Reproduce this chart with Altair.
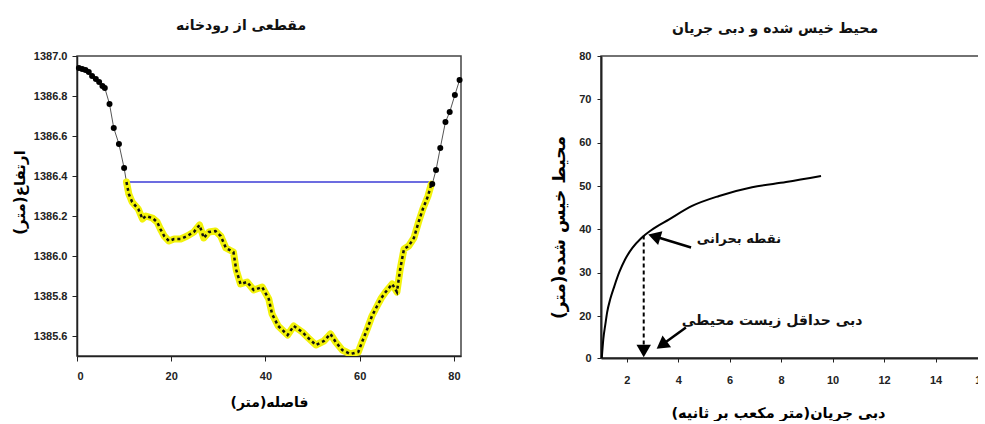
import altair as alt
import pandas as pd

# ---------------- left chart: river cross-section ----------------
left_bank_x = [0.4, 1.1, 1.8, 2.5, 3.2, 4.0, 4.7, 5.4, 5.9, 6.9, 7.8, 8.9, 10.0]
left_bank_y = [1386.94, 1386.935, 1386.93, 1386.92, 1386.90, 1386.885, 1386.87,
               1386.85, 1386.84, 1386.76, 1386.64, 1386.56, 1386.44]

wet_x = [10.5, 11.0, 11.7, 13.0, 13.9, 14.6, 16.0, 17.0, 17.7, 18.5,
         19.5, 20.6, 22.0, 23.4, 24.8, 26.0, 26.9, 28.0, 29.4, 30.5,
         31.6, 33.2, 33.8, 34.7, 36.1, 37.5, 39.3, 40.7, 41.4, 42.7,
         44.7, 46.0, 47.8, 49.1, 50.7, 52.4, 53.8, 54.9, 56.3, 58.0,
         59.7, 60.5, 61.6, 62.6, 63.7, 64.6, 65.5, 66.9, 67.9, 68.6,
         69.4, 70.4, 71.5, 72.5, 73.4, 74.5, 75.2]
wet_y = [1386.37, 1386.31, 1386.27, 1386.235, 1386.185, 1386.20, 1386.19, 1386.17, 1386.135, 1386.10,
         1386.075, 1386.085, 1386.085, 1386.10, 1386.12, 1386.155, 1386.09, 1386.12, 1386.125, 1386.10,
         1386.04, 1386.02, 1385.93, 1385.86, 1385.87, 1385.83, 1385.845, 1385.785, 1385.71, 1385.65,
         1385.605, 1385.65, 1385.62, 1385.59, 1385.555, 1385.575, 1385.61, 1385.57, 1385.53, 1385.51,
         1385.52, 1385.57, 1385.635, 1385.70, 1385.75, 1385.79, 1385.82, 1385.86, 1385.82, 1385.935,
         1386.035, 1386.05, 1386.09, 1386.17, 1386.235, 1386.30, 1386.36]

right_bank_x = [75.4, 76.2, 77.1, 78.2, 79.1, 80.2, 81.2]
right_bank_y = [1386.36, 1386.43, 1386.54, 1386.67, 1386.72, 1386.805, 1386.88]

profile_start_x = [0.0]
profile_start_y = [1386.94]

water_x = [10.5, 75.2]
water_level = 1386.37

left_x_ticks = [0, 20, 40, 60, 80]
left_y_ticks = [1385.6, 1385.8, 1386.0, 1386.2, 1386.4, 1386.6, 1386.8, 1387.0]

# ---------------- right chart: wetted perimeter vs discharge ----------------
q_vals = [1.03, 1.09, 1.17, 1.24, 1.36, 1.52, 1.71, 1.94, 2.22, 2.57, 2.95, 3.65, 4.54, 5.59, 6.87, 8.19, 9.55]
p_vals = [0.0, 9.0, 16.1, 20.9, 23.9, 26.9, 30.1, 33.1, 35.7, 38.0, 39.8, 42.3, 45.4, 47.7, 49.7, 50.9, 52.3]

right_x_ticks = [2, 4, 6, 8, 10, 12, 14, 16]
right_y_ticks = [0, 20, 30, 40, 50, 60, 70, 80]

arrow_x = [4.50, 4.30]
arrow_y = [35.8, 14.5]
arrow_x2 = [3.07, 3.36]
arrow_y2 = [38.4, 6.2]

head_x = [3.07, 3.36, 2.66]
head_y = [38.4, 6.2, 3.3]
head_angle = [287, 234, 180]

drop_x = [2.66]
drop_top = [38.6]
drop_bottom = [5.0]

note_x = [6.36, 7.65]
note_y = [37.7, 17.5]
note_text = ["نقطه بحرانی", "دبی حداقل زیست محیطی"]

FA = "DejaVu Sans"
NUM = "Liberation Sans"

# ---------- build left chart ----------
profile = pd.DataFrame({
    "x": profile_start_x + left_bank_x + wet_x + right_bank_x,
    "y": profile_start_y + left_bank_y + wet_y + right_bank_y,
})
dry = pd.DataFrame({"x": left_bank_x + right_bank_x, "y": left_bank_y + right_bank_y})
wet = pd.DataFrame({"x": wet_x, "y": wet_y})
water = pd.DataFrame({"x": water_x, "y": [water_level] * len(water_x)})

lx = alt.X("x:Q", scale=alt.Scale(domain=[0, 81.5], nice=False, zero=False),
           axis=alt.Axis(values=left_x_ticks, title="فاصله(متر)", grid=False,
                         labelFont=NUM, labelFontSize=11, labelFontWeight="bold", labelColor="#222",
                         titleFont=FA, titleFontSize=14, titleFontWeight="bold",
                         tickSize=5, labelPadding=9, titlePadding=14,
                         domainColor="#222", domainWidth=1.5, tickColor="#222"))
ly = alt.Y("y:Q", scale=alt.Scale(domain=[1385.5, 1387.0], nice=False, zero=False),
           axis=alt.Axis(values=left_y_ticks, format=".1f", title="ارتفاع(متر)", grid=False,
                         labelFont=NUM, labelFontSize=11, labelFontWeight="bold", labelColor="#222",
                         titleFont=FA, titleFontSize=15, titleFontWeight="bold",
                         tickSize=5, labelPadding=5, titlePadding=6, titleY=136,
                         domainColor="#222", domainWidth=1.5, tickColor="#222"))

base_prof = alt.Chart(profile).mark_line(color="#555", strokeWidth=1, clip=True).encode(x=lx, y=ly)
water_line = alt.Chart(water).mark_line(color="#3b3bd6", strokeWidth=1.5).encode(x="x:Q", y="y:Q")
yellow = alt.Chart(wet).mark_line(color="#f2f20a", strokeWidth=7, strokeCap="round",
                                  strokeJoin="round", clip=True).encode(x="x:Q", y="y:Q")
dashes = alt.Chart(wet).mark_line(color="#111", strokeWidth=2.5, strokeDash=[3, 3],
                                  clip=True).encode(x="x:Q", y="y:Q")
dots = alt.Chart(dry).mark_circle(color="#000", size=36, opacity=1).encode(x="x:Q", y="y:Q")

left = alt.layer(base_prof, water_line, yellow, dashes, dots).properties(
    width=384, height=300,
    title=alt.TitleParams("مقطعی از رودخانه", font=FA, fontSize=14, fontWeight="bold",
                          anchor="middle", dx=-28, offset=17, color="#111"),
)

# ---------- build right chart ----------
curve = pd.DataFrame({"q": q_vals, "p": p_vals})
arrows = pd.DataFrame({"q": arrow_x, "p": arrow_y, "q2": arrow_x2, "p2": arrow_y2})
heads = pd.DataFrame({"q": head_x, "p": head_y, "a": head_angle})
drop = pd.DataFrame({"q": drop_x, "p": drop_top, "p2": drop_bottom})
notes = pd.DataFrame({"q": note_x, "p": note_y, "t": note_text, "s": [13, 14]})

rx = alt.X("q:Q", scale=alt.Scale(domain=[1, 16], nice=False, zero=False),
           axis=alt.Axis(values=right_x_ticks, title="دبی جریان(متر مکعب بر ثانیه)", grid=False,
                         labelFont=NUM, labelFontSize=11, labelFontWeight="bold", labelColor="#222",
                         titleFont=FA, titleFontSize=14.5, titleFontWeight="bold",
                         tickSize=4, labelPadding=12, titlePadding=21, titleX=177,
                         domainColor="#222", domainWidth=2, tickColor="#222"))
ry = alt.Y("p:Q", scale=alt.Scale(domain=[0, 20, 80], range=[302, 260, 0], nice=False, zero=False),
           axis=alt.Axis(values=right_y_ticks, title="محیط خیس شده(متر)", grid=False,
                         labelFont=NUM, labelFontSize=11, labelFontWeight="bold", labelColor="#222",
                         titleFont=FA, titleFontSize=17, titleFontWeight="bold",
                         tickSize=4, labelPadding=6, titlePadding=10, titleY=171,
                         domainColor="#222", domainWidth=2, tickColor="#222"))

curve_line = alt.Chart(curve).mark_line(color="#000", strokeWidth=2, interpolate="monotone").encode(x=rx, y=ry)
drop_rule = alt.Chart(drop).mark_rule(color="#000", strokeWidth=2, strokeDash=[4, 3]).encode(
    x="q:Q", y="p:Q", y2="p2:Q")
arrow_rules = alt.Chart(arrows).mark_rule(color="#000", strokeWidth=2.5).encode(
    x="q:Q", y="p:Q", x2="q2:Q", y2="p2:Q")
arrow_heads = alt.Chart(heads).mark_point(shape="triangle-up", filled=True, color="#000",
                                          size=210, opacity=1).encode(
    x="q:Q", y="p:Q", angle=alt.Angle("a:Q", scale=None))
note_marks = alt.Chart(notes).mark_text(font=FA, fontWeight="bold", color="#111").encode(
    x="q:Q", y="p:Q", text="t:N", size=alt.Size("s:Q", scale=None, legend=None))

right = alt.layer(curve_line, drop_rule, arrow_rules, arrow_heads, note_marks).properties(
    width=386, height=302,
    title=alt.TitleParams("محیط خیس شده و دبی جریان", font=FA, fontSize=14, fontWeight="bold",
                          anchor="middle", dx=-19, dy=3, offset=17, color="#111"),
)

chart = alt.hconcat(left, right, spacing=86).properties(
    padding={"left": 11, "top": 18, "right": -11, "bottom": 0},
    background="white",
).configure_view(stroke="#444", strokeWidth=1.5)

chart.save("out.html", embed_options={"renderer": "svg", "actions": False})
